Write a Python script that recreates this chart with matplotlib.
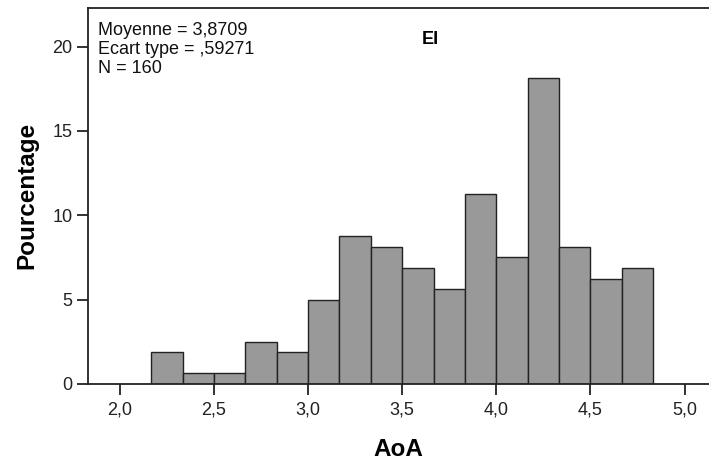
import matplotlib
matplotlib.use("Agg")
import matplotlib.pyplot as plt
from matplotlib.ticker import FuncFormatter

plt.rcParams['font.family'] = ['Liberation Sans', 'DejaVu Sans']

# bornes des classes (largeur 1/6) et pourcentages
bin_edges = [2 + 1/6 + i/6 for i in range(17)]
pourcentages = [1.875, 0.625, 0.625, 2.5, 1.875, 5.0, 8.75, 8.125, 6.875,
                5.625, 11.25, 7.5, 18.125, 8.125, 6.25, 6.875]
x_ticks = [2.0, 2.5, 3.0, 3.5, 4.0, 4.5, 5.0]
y_ticks = [0, 5, 10, 15, 20]

fig = plt.figure(figsize=(7.09, 4.62), dpi=100)
ax = fig.add_axes([0.124, 0.169, 0.876, 0.814])

lefts = bin_edges[:-1]
widths = [b - a for a, b in zip(bin_edges[:-1], bin_edges[1:])]
ax.bar(lefts, pourcentages, width=widths, align='edge',
       color='#999999', edgecolor='#222222', linewidth=1.0)

ax.set_xlim(1.83, 5.13)
ax.set_ylim(0, 22.3)
ax.set_xticks(x_ticks)
ax.set_yticks(y_ticks)
ax.xaxis.set_major_formatter(FuncFormatter(lambda v, p: f"{v:.1f}".replace('.', ',')))
ax.tick_params(axis='both', labelsize=13, colors='#222222', width=1.3, length=8)
ax.tick_params(axis='x', pad=5)
ax.tick_params(axis='y', pad=3)
ax.spines['right'].set_visible(False)
for s in ['left', 'bottom', 'top']:
    ax.spines[s].set_linewidth(1.3)
    ax.spines[s].set_color('#222222')

ax.set_xlabel('AoA', fontsize=17.5, fontweight='bold', labelpad=14)
ax.set_ylabel('Pourcentage', fontsize=17.5, fontweight='bold', labelpad=10)

ax.text(0.016, 0.962, 'Moyenne = 3,8709\nEcart type = ,59271\nN = 160',
        transform=ax.transAxes, ha='left', va='top', fontsize=13,
        linespacing=1.15, color='#111111')
ax.text(0.552, 0.915, 'EI', transform=ax.transAxes, ha='center', va='center',
        fontsize=13, fontweight='bold')

fig.savefig('out.png', dpi=100)
